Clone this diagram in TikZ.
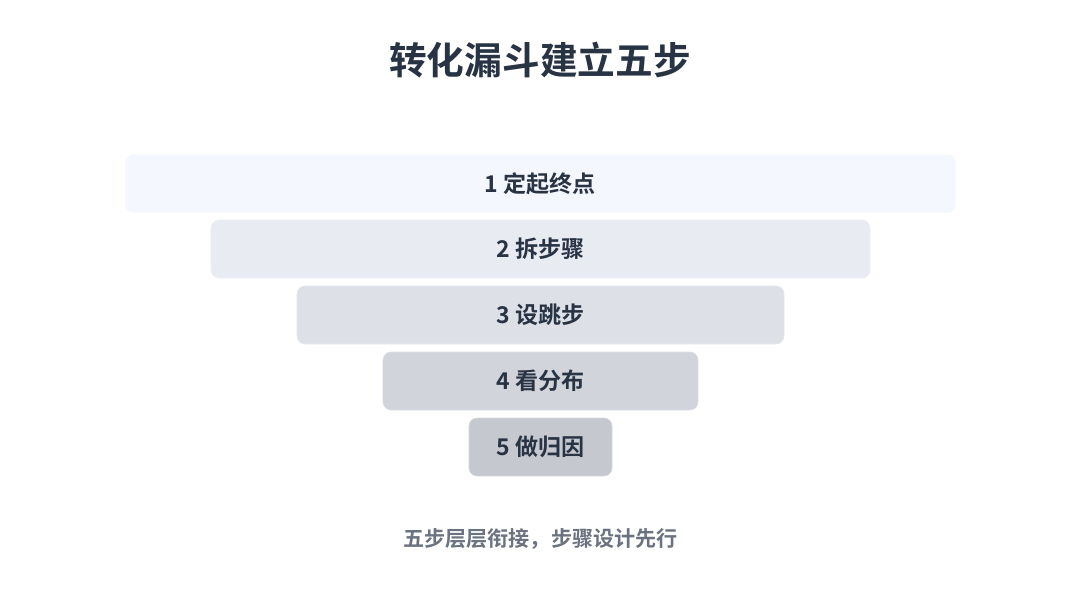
\documentclass[tikz,border=0pt]{standalone}
\usepackage{fontspec}
\setmainfont{Noto Sans CJK SC}[BoldFont={* Bold}]
\usepackage{tikz}
\usetikzlibrary{positioning}
\definecolor{ink}{HTML}{283344}
\definecolor{muted}{HTML}{6B7280}
\definecolor{lvA}{HTML}{F4F7FE}
\definecolor{lvB}{HTML}{E8EBF2}
\definecolor{lvC}{HTML}{DDE0E7}
\definecolor{lvD}{HTML}{D1D4DB}
\definecolor{lvE}{HTML}{C5C8CF}

\begin{document}
\begin{tikzpicture}[x=0.025cm,y=-0.025cm]\tikzset{every node/.style={text=ink,font=\bfseries}, stage/.style={rounded corners=0.2cm, minimum height=1.45cm, inner sep=0pt, font=\fontsize{16.4}{18}\selectfont\bfseries}, }
	\useasboundingbox[fill=white] (0,0) rectangle (1080,600);
	\node (title) at (540,60) {\fontsize{26.8}{30}\selectfont 转化漏斗建立五步};
	\node[stage, fill=lvA, draw=lvA!60!white, minimum width=20.75cm] (s1) at (540.5,183.5) {1 定起终点};
	\node[stage, fill=lvB, draw=lvB!70!white, minimum width=16.475cm] (s2) at (540.5,249) {2 拆步骤};
	\node[stage, fill=lvC, draw=lvC!70!white, minimum width=12.175cm] (s3) at (540.5,315) {3 设跳步};
	\node[stage, fill=lvD, draw=lvD!70!white, minimum width=7.875cm] (s4) at (540.5,381) {4 看分布};
	\node[stage, fill=lvE, draw=lvE!70!white, minimum width=3.575cm] (s5) at (540.5,447) {5 做归因};
	\node[text=muted, font=\fontsize{15}{17}\selectfont\bfseries] (foot) at (540.5,539) {五步层层衔接，步骤设计先行};\end{tikzpicture}
\end{document}
